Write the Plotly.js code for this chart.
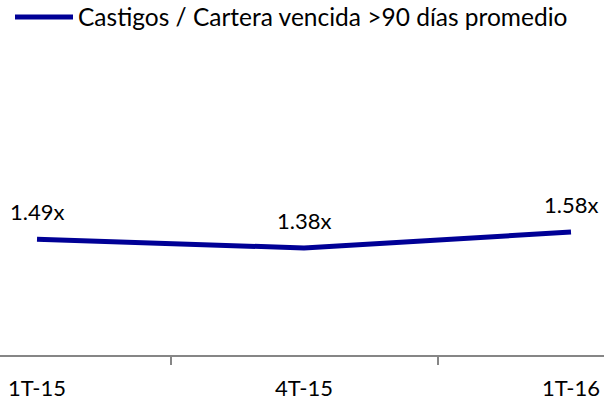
<!DOCTYPE html>
<html>
<head>
<meta charset="utf-8">
<script src="https://cdn.plot.ly/plotly-3.0.1.min.js"></script>
<style>html,body{margin:0;padding:0;background:#fff;}#chart{width:604px;height:403px;}</style>
</head>
<body>
<div id="chart"></div>
<script>
const categories = ["1T-15", "4T-15", "1T-16"];
const values = [1.49, 1.38, 1.58];
const valueLabels = ["1.49x", "1.38x", "1.58x"];
const seriesName = "Castigos / Cartera vencida >90 días promedio";

const FONT = "Lato, 'Open Sans', sans-serif";

const trace = {
  type: "scatter",
  mode: "lines",
  x: categories,
  y: values,
  name: seriesName,
  line: {color: "#000096", width: 5},
  hoverinfo: "skip"
};

const annotations = categories.map((c, i) => ({
  x: c, y: values[i], xref: "x", yref: "y",
  text: valueLabels[i], showarrow: false,
  yanchor: "middle", xanchor: "center", yshift: 28,
  font: {family: FONT, size: 22, color: "#000000"}
}));

const layout = {
  width: 604, height: 403,
  margin: {l: 0, r: 0, t: 40, b: 48, pad: 0},
  paper_bgcolor: "#ffffff", plot_bgcolor: "#ffffff",
  font: {family: FONT, size: 22, color: "#000000"},
  showlegend: true,
  legend: {
    x: 10 / 604, y: 1 - 17 / 403, xref: "container", yref: "container",
    xanchor: "left", yanchor: "middle", orientation: "h",
    itemwidth: 58,
    font: {family: FONT, size: 24.5, color: "#000000"},
    bgcolor: "rgba(0,0,0,0)"
  },
  xaxis: {
    type: "category",
    range: [-0.1386, 2.1236],
    showline: true, linecolor: "#868686", linewidth: 2,
    ticks: "outside", tickson: "boundaries", ticklen: 8, tickwidth: 2, tickcolor: "#868686",
    showgrid: false, zeroline: false,
    ticklabelstandoff: 13,
    tickfont: {family: FONT, size: 22, color: "#000000"},
    fixedrange: true
  },
  yaxis: {
    range: [0.0425, 3.98],
    showgrid: false, zeroline: false, showline: false,
    showticklabels: false, ticks: "",
    fixedrange: true
  },
  annotations: annotations
};

Plotly.newPlot("chart", [trace], layout, {displayModeBar: false, staticPlot: true});
</script>
</body>
</html>
